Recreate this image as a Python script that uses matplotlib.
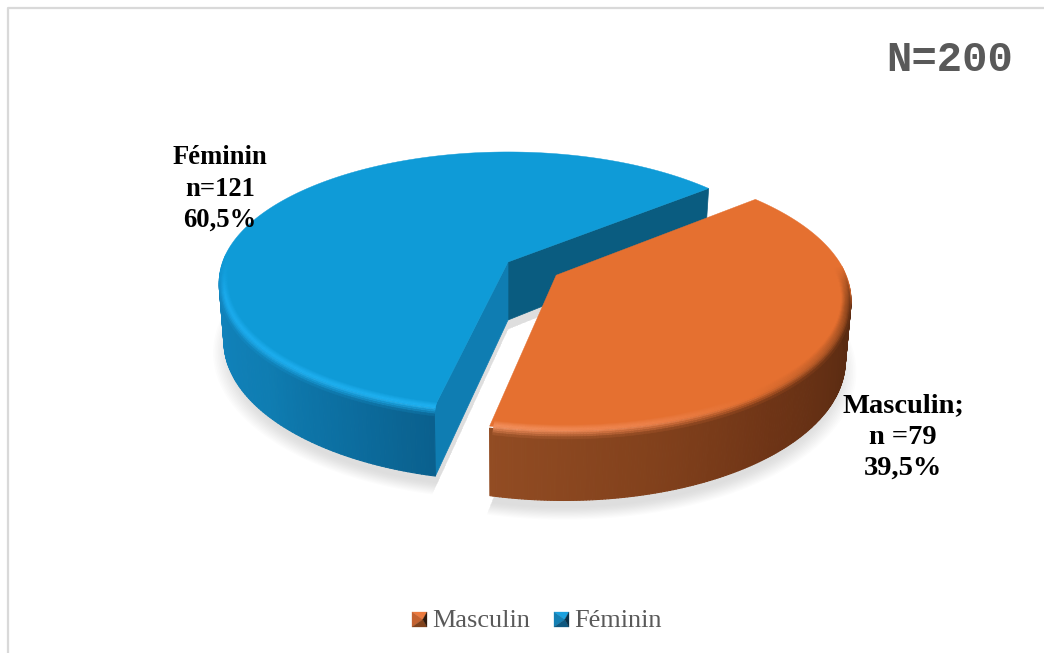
import numpy as np
import matplotlib
matplotlib.use('Agg')
import matplotlib.pyplot as plt
from matplotlib.collections import PolyCollection
from matplotlib.patches import Polygon

categories = ['Masculin', 'Féminin']
counts = [79, 121]
percent_labels = ['39,5%', '60,5%']
point_labels = ['Masculin;\nn =79\n39,5%', 'Féminin\nn=121\n60,5%']
total_label = 'N=200'

## --------------------------- Pie geometry --------------------------------------

cx, cy = 508, 262      # apex of the slice that stays in place
R, S = 285.5, 127      # screen half axes of the disk
k = 0.154              # perspective strength
D = 58                 # thickness of the disk
first_angle = 257.3    # where Masculin starts, counter clockwise
explode = [0.195, 0.0]

top_colors = [(229, 112, 48), (15, 155, 215)]

# side and bevel shading along the rim: angle -> rgb
side_keys = [
    ([257, 285, 310, 340, 400], [(146, 76, 35), (130, 65, 28), (110, 52, 22), (92, 44, 18), (84, 40, 16)]),
    ([170, 220, 240, 258, 300], [(19, 135, 195), (15, 125, 178), (12, 110, 160), (10, 95, 140), (10, 95, 140)]),
]
bevel_keys = [
    ([257, 285, 305, 330, 358, 372, 400], [(244, 146, 96), (238, 130, 75), (229, 112, 48), (185, 92, 40), (135, 68, 28), (229, 112, 48), (229, 112, 48)]),
    ([30, 172, 192, 258], [(15, 155, 215), (15, 155, 215), (28, 172, 238), (32, 178, 242)]),
]


def project(u, v, z=0.0):
    w = 1 + k * v
    return cx + R * u / w * (1 - 0.017 * z), cy - S * v / w + z * D / w


def rim_point(theta, off, r=1.0, z=0.0):
    t = np.radians(theta)
    return project(off[0] + r * np.cos(t), off[1] + r * np.sin(t), z)


def ramp(theta, keys):
    xs, cols = keys
    cols = np.array(cols, dtype=float) / 255
    return np.array([np.interp(theta, xs, cols[:, i]) for i in range(3)]).T


def outline(a0, a1, off, r=1.0, z=0.0):
    th = np.linspace(a0, a1, 200)
    x, y = rim_point(th, off, r, z)
    ax_, ay_ = project(off[0], off[1], z)
    return np.column_stack([np.r_[ax_, x], np.r_[ay_, y]])


def quads(ax, p0, p1, colors, z, lw=0.8):
    # strip of small quads between two polylines
    verts = [[p0[i], p0[i + 1], p1[i + 1], p1[i]] for i in range(len(p0) - 1)]
    pc = PolyCollection(verts, facecolors=colors, edgecolors=colors, linewidths=lw, zorder=z)
    ax.add_collection(pc)


fig = plt.figure(figsize=(10.44, 6.53), dpi=100, facecolor='white')
ax = fig.add_axes([0, 0, 1, 1])
ax.set_xlim(0, 1044)
ax.set_ylim(653, 0)
ax.axis('off')

# chart area border, only left and top fall inside the frame
ax.plot([7.5, 7.5, 1044], [653, 8, 8], color='#D9D9D9', lw=1.6, zorder=1)

shares = np.array(counts) / sum(counts) * 360
starts = first_angle + np.r_[0, np.cumsum(shares)[:-1]]
ends = starts + shares
offsets = []
for i in range(len(counts)):
    mid = np.radians((starts[i] + ends[i]) / 2)
    offsets.append((explode[i] * np.cos(mid), explode[i] * np.sin(mid)))

# soft shadow under the slices
for i in range(len(counts)):
    off = offsets[i]
    for g in np.linspace(0, 1, 12):
        pts = outline(starts[i], ends[i], off, r=0.98 + 0.06 * g, z=1.16)
        ax.add_patch(Polygon(pts, closed=True, facecolor='#909090', edgecolor='none',
                             alpha=0.022, zorder=2))

## --------------------------- Slices --------------------------------------

zo = 3
for i in [1, 0]:
    off = offsets[i]
    a0, a1 = starts[i], ends[i]
    if a0 > 360:
        a0, a1 = a0 - 360, a1 - 360
    th = np.linspace(a0, a1, 260)

    # cut faces of the slice that stays behind the gap
    if explode[i] == 0:
        for ang, col in [(a0, '#0A5C80'), (a1, '#0F7DB2')]:
            x0, y0 = project(off[0], off[1], 0)
            x1, y1 = project(off[0], off[1], 1)
            x2, y2 = rim_point(ang, off, 1, 0)
            x3, y3 = rim_point(ang, off, 1, 1)
            ax.add_patch(Polygon([(x0, y0), (x2, y2), (x3, y3), (x1, y1)], closed=True,
                                 facecolor=col, edgecolor=col, lw=0.5, zorder=zo))

    # outer wall, the part facing away is never seen
    keep = np.sin(np.radians(th)) < 0.15
    tk = th[keep]
    side_cols = ramp(tk, side_keys[i])
    p0 = np.column_stack(rim_point(tk, off, 1, 0.03))
    p1 = np.column_stack(rim_point(tk, off, 1, 1))
    quads(ax, p0, p1, side_cols[:-1], zo + 1)

    # flat top
    top_rgb = np.array(top_colors[i]) / 255
    ax.add_patch(Polygon(outline(a0, a1, off), closed=True, facecolor=top_rgb,
                         edgecolor=top_rgb, lw=0.3, zorder=zo + 2))

    # rounded rim between top and wall, it dies out toward the back of the disk
    th_in = np.linspace(a0 + 0.5, a1, 260)
    fade = np.clip((0.06 - np.sin(np.radians(th_in))) / 0.3, 0, 1)
    bev = top_rgb + (ramp(th_in, bevel_keys[i]) - top_rgb) * fade[:, None]
    wall = bev + (ramp(th_in, side_keys[i]) - bev) * fade[:, None]
    rings = np.linspace(0, 1, 11)
    front = fade[:-1] > 0
    for j in range(len(rings) - 1):
        t0, t1 = rings[j], rings[j + 1]
        tm = (t0 + t1) / 2
        if tm < 0.5:
            c = top_rgb + (bev - top_rgb) * (tm / 0.5)
        else:
            c = bev + (wall - bev) * ((tm - 0.5) / 0.5) ** 1.5
        r0, r1 = 0.968 + 0.032 * t0, 0.968 + 0.032 * t1
        p0 = np.column_stack(rim_point(th_in, off, r0, 0.12 * t0 ** 2 * fade))
        p1 = np.column_stack(rim_point(th_in, off, r1, 0.12 * t1 ** 2 * fade))
        verts = [[p0[n], p0[n + 1], p1[n + 1], p1[n]] for n in np.nonzero(front)[0]]
        pc = PolyCollection(verts, facecolors=c[:-1][front], edgecolors=c[:-1][front],
                            linewidths=0.3, zorder=zo + 3)
        ax.add_collection(pc)
    zo += 10

## --------------------------- Text --------------------------------------

serif = 'Liberation Serif'
ax.text(903, 437, point_labels[0], family=serif, weight='bold', fontsize=20.5, ha='center',
        va='center', color='black', linespacing=1.31, zorder=50)
ax.text(220, 189, point_labels[1], family=serif, weight='bold', fontsize=19.2, ha='center',
        va='center', color='black', linespacing=1.33, zorder=50)
ax.text(1013, 60, total_label, family='Liberation Mono', weight='bold', fontsize=30.4, ha='right',
        va='center', color='#595959', zorder=50)

# legend keys are little pyramids lit from the upper left
key_shades = [
    [(236, 122, 62), (196, 98, 48), (128, 66, 28), (48, 24, 10)],
    [(26, 160, 222), (20, 128, 180), (14, 88, 128), (8, 48, 72)],
]
key_x = [412, 554]
text_x = [432, 574]
for i in range(len(categories)):
    x0, y0, s = key_x[i], 612, 15
    tip = (x0 + s * 0.72, y0 + s * 0.5)
    corners = [(x0, y0), (x0 + s, y0), (x0 + s, y0 + s), (x0, y0 + s)]
    faces = [(corners[0], corners[1]), (corners[3], corners[0]),
             (corners[2], corners[3]), (corners[1], corners[2])]
    for (a, b), col in zip(faces, key_shades[i]):
        c = np.array(col) / 255
        ax.add_patch(Polygon([a, b, tip], closed=True, facecolor=c, edgecolor=c, lw=0.2, zorder=50))
    ax.text(text_x[i], 627, categories[i], family=serif, fontsize=18.9, ha='left', va='baseline',
            color='#595959', zorder=50)

fig.savefig('out.png', dpi=100, facecolor='white')
